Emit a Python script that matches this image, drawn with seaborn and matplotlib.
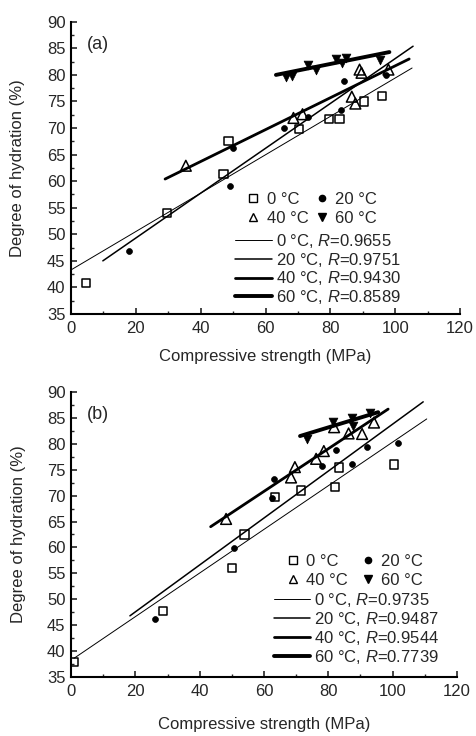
import numpy as np
import matplotlib
matplotlib.use("Agg")
import matplotlib.pyplot as plt
import seaborn as sns
from matplotlib.lines import Line2D
from matplotlib.ticker import MultipleLocator

# Data: panel (a)
a_x0 = [4.6, 29.5, 47.0, 48.6, 70.4, 79.5, 82.8, 90.4, 96.0]
a_y0 = [40.8, 54.0, 61.3, 67.6, 69.8, 71.7, 71.7, 75.0, 76.0]
a_x20 = [17.9, 49.1, 50.1, 65.8, 73.2, 83.3, 84.3, 97.2]
a_y20 = [46.9, 59.1, 66.3, 70.1, 72.0, 73.4, 78.9, 79.9]
a_x40 = [35.4, 68.6, 71.4, 86.6, 87.7, 89.0, 89.6, 97.9]
a_y40 = [62.9, 71.9, 72.6, 75.9, 74.6, 81.0, 80.4, 81.0]
a_x60 = [66.3, 68.3, 73.2, 75.6, 81.8, 83.5, 84.9, 95.2]
a_y60 = [79.6, 79.8, 81.8, 81.0, 83.0, 82.2, 83.2, 82.8]
# fit lines (start/end) for 0, 20, 40, 60 °C
a_fit_x = [(0.0, 105.2), (9.8, 105.5), (29.0, 104.3), (63.2, 98.2)]
a_fit_y = [(43.3, 81.3), (45.0, 85.4), (60.4, 83.0), (80.0, 84.3)]
a_r = ["0.9655", "0.9751", "0.9430", "0.8589"]

# panel (b)
b_x0 = [0.9, 28.5, 50.1, 53.9, 63.4, 71.5, 82.1, 83.4, 100.4]
b_y0 = [37.9, 47.7, 56.0, 62.5, 69.7, 71.0, 71.7, 75.4, 76.0]
b_x20 = [26.1, 50.8, 62.6, 63.1, 78.1, 82.4, 87.4, 91.9, 101.7]
b_y20 = [46.2, 59.9, 69.6, 73.2, 75.8, 78.8, 76.1, 79.4, 80.1]
b_x40 = [48.2, 68.4, 69.6, 76.2, 78.6, 81.8, 86.3, 90.5, 94.2]
b_y40 = [65.5, 73.5, 75.5, 77.1, 78.6, 83.2, 82.0, 81.9, 84.1]
b_x60 = [73.5, 81.3, 87.5, 87.7, 92.9]
b_y60 = [80.9, 84.3, 84.9, 83.4, 85.9]
b_fit_x = [(0.9, 110.6), (18.3, 109.5), (43.4, 98.6), (71.2, 95.5)]
b_fit_y = [(38.6, 84.8), (46.8, 88.1), (64.0, 86.7), (81.5, 86.1)]
b_r = ["0.9735", "0.9487", "0.9544", "0.7739"]

temps = ["0 °C", "20 °C", "40 °C", "60 °C"]

sns.set_style("ticks")
plt.rcParams["font.family"] = ["Liberation Sans", "DejaVu Sans"]
plt.rcParams["mathtext.fontset"] = "custom"
plt.rcParams["mathtext.rm"] = "Liberation Sans"
plt.rcParams["mathtext.it"] = "Liberation Sans:italic"
plt.rcParams["font.size"] = 12
plt.rcParams["xtick.direction"] = "in"
plt.rcParams["ytick.direction"] = "in"

# marker styles per temperature
mk = [dict(marker="s", facecolor="none", edgecolor="black", s=36, linewidth=1.1),
      dict(marker="o", facecolor="black", edgecolor="black", s=18, linewidth=0.5),
      dict(marker="^", facecolor="none", edgecolor="black", s=60, linewidth=1.1),
      dict(marker="v", facecolor="black", edgecolor="black", s=40, linewidth=0.5)]
lws = [0.7, 1.1, 2.0, 2.8]


def draw_panel(ax, pts, fit_x, fit_y, rvals, tag, leg1_pos, colsp, leg2_pos, xlab_y):
    for (xs, ys), style in zip(pts, mk):
        sns.scatterplot(x=xs, y=ys, ax=ax, zorder=3, **style)
    for fx, fy, lw in zip(fit_x, fit_y, lws):
        sns.lineplot(x=list(fx), y=list(fy), ax=ax, color="black", linewidth=lw)

    ax.set_xlim(0, 120)
    ax.set_ylim(35, 90)
    ax.xaxis.set_major_locator(MultipleLocator(20))
    ax.xaxis.set_minor_locator(MultipleLocator(10))
    ax.yaxis.set_major_locator(MultipleLocator(5))
    ax.yaxis.set_minor_locator(MultipleLocator(2.5))
    ax.tick_params(which="major", length=4, width=1.2, labelsize=12)
    ax.tick_params(axis="x", which="major", pad=5)
    ax.tick_params(axis="y", which="major", pad=4)
    ax.tick_params(which="minor", length=2.5, width=1.0)
    for s in ["left", "bottom"]:
        ax.spines[s].set_linewidth(1.5)
        ax.spines[s].set_color("black")
    sns.despine(ax=ax)
    ax.set_xlabel("Compressive strength (MPa)", fontsize=12)
    ax.set_ylabel("Degree of hydration (%)", fontsize=12)
    ax.yaxis.set_label_coords(-0.118, 0.5)
    ax.xaxis.set_label_coords(0.5, xlab_y)
    ax.text(0.04, 0.95, tag, transform=ax.transAxes, fontsize=13, va="top", ha="left")

    # legend for markers (two columns)
    mh = []
    for style in mk:
        mh.append(Line2D([], [], ls="none", marker=style["marker"],
                         markerfacecolor=style["facecolor"], markeredgecolor="black",
                         markersize=5.5 if style["marker"] != "o" else 4.5,
                         markeredgewidth=1.0))
    order = [0, 2, 1, 3]
    leg1 = ax.legend([mh[i] for i in order], [temps[i] for i in order], ncol=2,
                     loc="upper left", bbox_to_anchor=leg1_pos, frameon=False,
                     borderpad=0, handlelength=0.8, handletextpad=0.4,
                     columnspacing=colsp, labelspacing=0.2, fontsize=12)
    ax.add_artist(leg1)
    lh = [Line2D([], [], color="black", linewidth=lw) for lw in lws]
    labels = [f"{t}, $R$={r}" for t, r in zip(temps, rvals)]
    ax.legend(lh, labels, loc="upper left", bbox_to_anchor=leg2_pos, frameon=False,
              borderpad=0, handlelength=2.2, handletextpad=0.25, labelspacing=0.05,
              fontsize=12)


fig = plt.figure(figsize=(4.77, 7.36), dpi=100)
ax_a = fig.add_axes([0.149, 0.5734, 0.8155, 0.397])
ax_b = fig.add_axes([0.149, 0.0802, 0.809, 0.3872])

draw_panel(ax_a, [(a_x0, a_y0), (a_x20, a_y20), (a_x40, a_y40), (a_x60, a_y60)],
           a_fit_x, a_fit_y, a_r, "(a)", (0.43, 0.445), 0.4, (0.40, 0.31), -0.12)
draw_panel(ax_b, [(b_x0, b_y0), (b_x20, b_y20), (b_x40, b_y40), (b_x60, b_y60)],
           b_fit_x, b_fit_y, b_r, "(b)", (0.535, 0.46), 0.8, (0.503, 0.33), -0.14)

fig.savefig("out.png", dpi=100)
